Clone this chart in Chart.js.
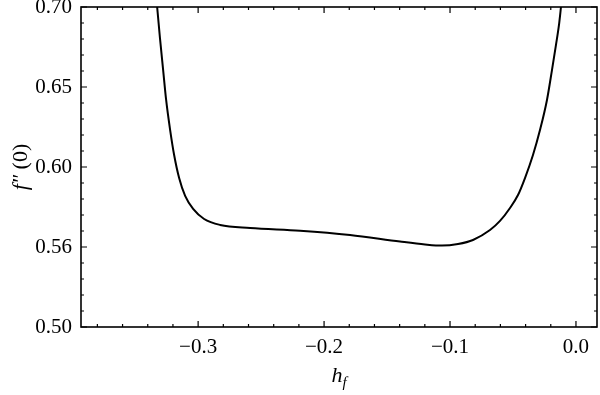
<!DOCTYPE html>
<html>
<head>
<meta charset="utf-8">
<script src="https://cdn.jsdelivr.net/npm/chart.js@4.4.1/dist/chart.umd.min.js"></script>
<style>
  body { margin: 0; background: #fff; }
  #wrap { width: 600px; height: 395px; position: relative; }
</style>
</head>
<body>
<div id="wrap"><canvas id="myChart"></canvas></div>
<script>
// h_f values and f''(0)
const hValues = [-0.3337, -0.33254, -0.33016, -0.32778, -0.3254, -0.32222, -0.31905, -0.31508,
  -0.31032, -0.30397, -0.29524, -0.28254, -0.25873, -0.21905, -0.17937, -0.13968, -0.11984,
  -0.10635, -0.09365, -0.08175, -0.06825, -0.06032, -0.05238, -0.04603, -0.04048, -0.03413,
  -0.02857, -0.02302, -0.01905, -0.01587, -0.01349, -0.0119, -0.0108];
const fppValues = [0.712, 0.700, 0.6794, 0.6606, 0.6419, 0.6231, 0.6075, 0.5931,
  0.5819, 0.5738, 0.5675, 0.5638, 0.5619, 0.5602, 0.5575, 0.5534, 0.5516,
  0.5509, 0.5519, 0.5544, 0.5606, 0.5663, 0.5744, 0.5825, 0.5931, 0.6075,
  0.6231, 0.6419, 0.6606, 0.6763, 0.6888, 0.700, 0.708];
const yTickLabels = { "0.50": "0.50", "0.55": "0.56", "0.60": "0.60", "0.65": "0.65", "0.70": "0.70" };
const xRange = [-0.393, 0.0167];
const yRange = [0.5, 0.7];

const serif = "'Liberation Serif', 'DejaVu Serif', serif";

// frame, inward ticks and axis titles
const frameTicks = {
  id: "frameTicks",
  afterDraw(chart) {
    const ctx = chart.ctx;
    const a = chart.chartArea;
    const xs = chart.scales.x, ys = chart.scales.y;
    ctx.save();
    ctx.strokeStyle = "#000";
    ctx.lineWidth = 1.6;
    ctx.strokeRect(a.left, a.top, a.right - a.left, a.bottom - a.top);
    ctx.lineWidth = 1.2;
    ctx.beginPath();
    for (let i = -19; i <= 0; i++) {
      const v = i * 0.02;
      if (v < xs.min || v > xs.max) continue;
      const px = xs.getPixelForValue(v);
      const len = i % 5 === 0 ? 6 : 3;
      ctx.moveTo(px, a.bottom); ctx.lineTo(px, a.bottom - len);
      ctx.moveTo(px, a.top); ctx.lineTo(px, a.top + len);
    }
    for (let i = 50; i <= 70; i++) {
      const v = i * 0.01;
      const py = ys.getPixelForValue(v);
      const len = i % 5 === 0 ? 6 : 3;
      ctx.moveTo(a.left, py); ctx.lineTo(a.left + len, py);
      ctx.moveTo(a.right, py); ctx.lineTo(a.right - len, py);
    }
    ctx.stroke();

    // x title: h_f
    ctx.fillStyle = "#000";
    ctx.textBaseline = "alphabetic";
    const cx = (a.left + a.right) / 2;
    ctx.font = "italic 22px " + serif;
    const hw = ctx.measureText("h").width;
    ctx.font = "italic 15px " + serif;
    const fw = ctx.measureText("f").width;
    const x0 = cx - (hw + fw) / 2;
    ctx.font = "italic 22px " + serif;
    ctx.fillText("h", x0, 382);
    ctx.font = "italic 15px " + serif;
    ctx.fillText("f", x0 + hw, 387);

    // y title: f''(0)
    ctx.translate(27, (a.top + a.bottom) / 2);
    ctx.rotate(-Math.PI / 2);
    ctx.font = "italic 22px " + serif;
    const p1 = "f\u2033";
    const w1 = ctx.measureText(p1).width;
    ctx.font = "22px " + serif;
    const p2 = " (0)";
    const w2 = ctx.measureText(p2).width;
    const s = -(w1 + w2) / 2;
    ctx.font = "italic 22px " + serif;
    ctx.fillText(p1, s, 0);
    ctx.font = "22px " + serif;
    ctx.fillText(p2, s + w1, 0);
    ctx.restore();
  }
};

const ctx = document.getElementById("myChart").getContext("2d");
const myChart = new Chart(ctx, {
  type: "scatter",
  data: {
    datasets: [
      {
        label: "f''(0)",
        data: hValues.map((h, i) => ({ x: h, y: fppValues[i] })),
        showLine: true,
        borderColor: "#000",
        borderWidth: 2,
        pointRadius: 0,
        cubicInterpolationMode: "monotone",
      },
    ],
  },
  options: {
    responsive: true,
    maintainAspectRatio: false,
    animation: false,
    layout: { padding: { top: 7, right: 3, left: 0, bottom: 0 } },
    plugins: { legend: { display: false }, tooltip: { enabled: false } },
    scales: {
      x: {
        type: "linear",
        min: xRange[0],
        max: xRange[1],
        grid: { display: false, drawTicks: false },
        border: { display: false },
        ticks: {
          stepSize: 0.1,
          includeBounds: false,
          padding: 8,
          color: "#000",
          maxRotation: 0,
          font: { family: serif, size: 21 },
          callback: (v) => v.toFixed(1).replace("-", "\u2212"),
        },
        afterFit: (scale) => {
          scale.height = 68;
          scale.paddingLeft = 0;
          scale.paddingRight = 0;
        },
      },
      y: {
        type: "linear",
        min: yRange[0],
        max: yRange[1],
        grid: { display: false, drawTicks: false },
        border: { display: false },
        ticks: {
          stepSize: 0.05,
          padding: 9,
          color: "#000",
          font: { family: serif, size: 21 },
          callback: (v) => yTickLabels[v.toFixed(2)] || "",
        },
        afterFit: (scale) => {
          scale.width = 81;
          scale.paddingTop = 0;
          scale.paddingBottom = 0;
        },
      },
    },
  },
  plugins: [frameTicks],
});
</script>
</body>
</html>
